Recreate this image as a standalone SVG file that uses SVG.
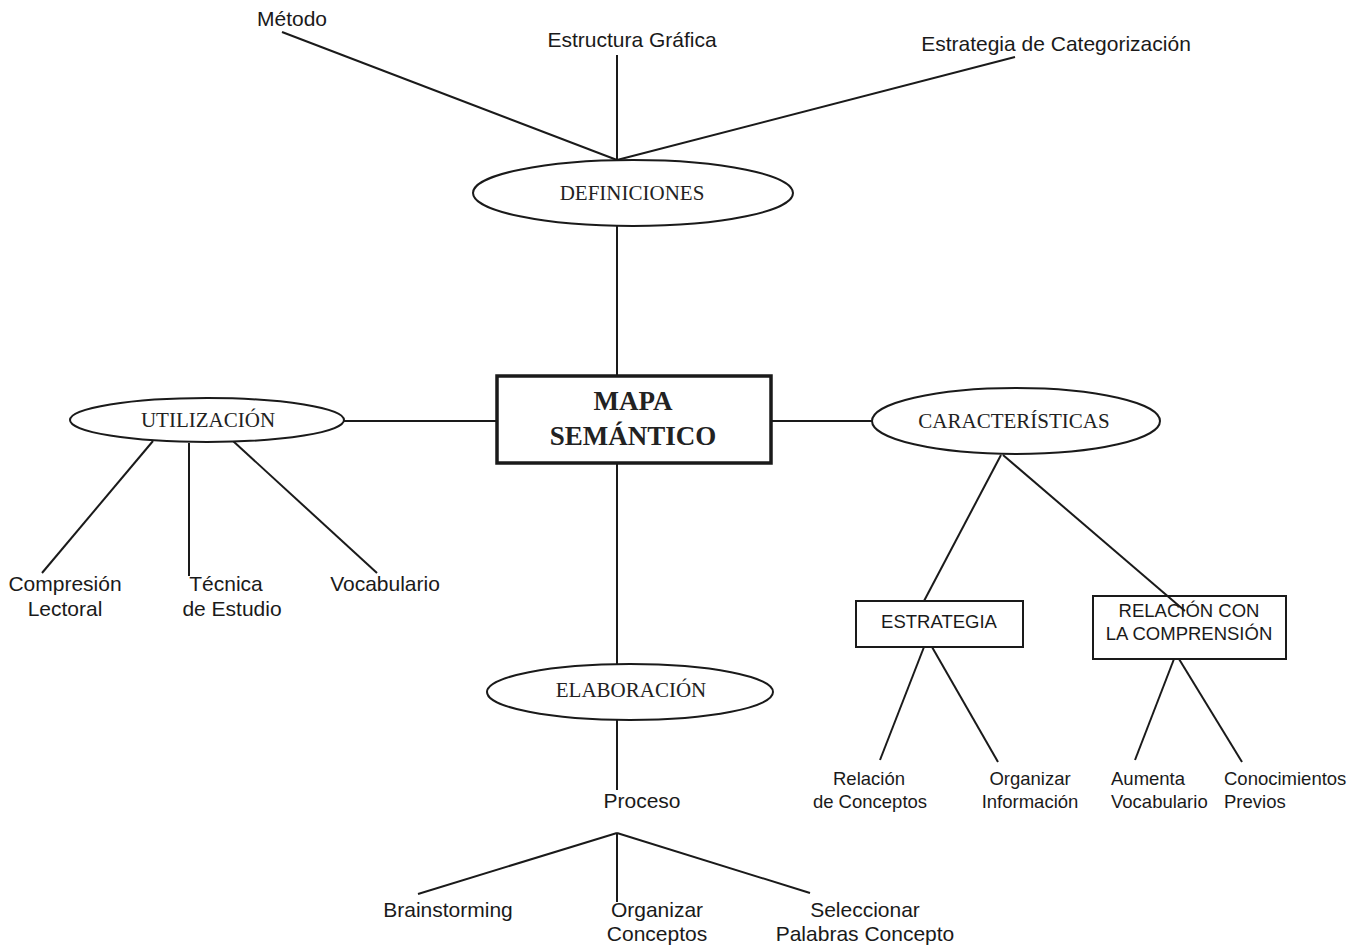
<svg xmlns="http://www.w3.org/2000/svg" width="1362" height="947" viewBox="0 0 1362 947">
<style>
.ln{stroke:#1a1a1a;stroke-width:2;fill:none}
.sh{fill:#fff;stroke:#1a1a1a;stroke-width:2}
.ser{font-family:"Liberation Serif","Times New Roman",serif;fill:#222;text-anchor:middle;font-size:21px}
.san{font-family:"Liberation Sans",Arial,sans-serif;fill:#1a1a1a;text-anchor:middle;font-size:21px}
.sm{font-size:18.5px}
.l{text-anchor:start}
</style>
<rect width="1362" height="947" fill="#fff"/>
<g id="connectors">
<line class="ln" x1="282" y1="32" x2="617" y2="160"/>
<line class="ln" x1="617" y1="55" x2="617" y2="160"/>
<line class="ln" x1="617" y1="160" x2="1015" y2="57"/>
<line class="ln" x1="617" y1="226" x2="617" y2="376"/>
<line class="ln" x1="617" y1="462" x2="617" y2="665"/>
<line class="ln" x1="343" y1="421" x2="496" y2="421"/>
<line class="ln" x1="772" y1="421" x2="873" y2="421"/>
<line class="ln" x1="153" y1="441" x2="42" y2="573"/>
<line class="ln" x1="189" y1="443" x2="189" y2="576"/>
<line class="ln" x1="233" y1="441" x2="377" y2="573"/>
<line class="ln" x1="1001" y1="455" x2="924" y2="601"/>
<line class="ln" x1="1003" y1="455" x2="1185" y2="611"/>
<line class="ln" x1="924" y1="647" x2="880" y2="760"/>
<line class="ln" x1="932" y1="647" x2="998" y2="762"/>
<line class="ln" x1="1174" y1="659" x2="1135" y2="760"/>
<line class="ln" x1="1179" y1="659" x2="1242" y2="762"/>
<line class="ln" x1="617" y1="720" x2="617" y2="790"/>
<line class="ln" x1="617" y1="833" x2="418" y2="894"/>
<line class="ln" x1="617" y1="833" x2="617" y2="902"/>
<line class="ln" x1="617" y1="833" x2="810" y2="893"/>
</g>
<g id="metodo"><text class="san" x="292" y="26">Método</text></g>
<g id="estructura"><text class="san" x="632" y="47">Estructura Gráfica</text></g>
<g id="categorizacion"><text class="san" x="1056" y="51">Estrategia de Categorización</text></g>
<g id="definiciones"><ellipse class="sh" cx="633" cy="193" rx="160" ry="33"/><text class="ser" x="632" y="200">DEFINICIONES</text></g>
<g id="mapa"><rect x="497" y="376" width="274" height="87" fill="#fff" stroke="#1a1a1a" stroke-width="3.5"/><text class="ser" x="633" y="410" font-weight="bold" style="font-size:27px">MAPA</text><text class="ser" x="633" y="445" font-weight="bold" style="font-size:27px">SEMÁNTICO</text></g>
<g id="utilizacion"><ellipse class="sh" cx="207" cy="420" rx="137" ry="22"/><text class="ser" x="208" y="427">UTILIZACIÓN</text></g>
<g id="compresion"><text class="san" x="65" y="591">Compresión</text><text class="san" x="65" y="616">Lectoral</text></g>
<g id="tecnica"><text class="san" x="226" y="591">Técnica</text><text class="san" x="232" y="616">de Estudio</text></g>
<g id="vocabulario"><text class="san" x="385" y="591">Vocabulario</text></g>
<g id="caracteristicas"><ellipse class="sh" cx="1016" cy="421" rx="144" ry="33"/><text class="ser" x="1014" y="428">CARACTERÍSTICAS</text></g>
<g id="estrategia"><rect class="sh" x="856" y="601" width="167" height="46"/><text class="san sm" x="939" y="628">ESTRATEGIA</text></g>
<g id="relacion"><rect class="sh" x="1093" y="596" width="193" height="63" fill-opacity="0"/><text class="san sm" x="1189" y="617">RELACIÓN CON</text><text class="san sm" x="1189" y="640">LA COMPRENSIÓN</text></g>
<g id="relconceptos"><text class="san sm" x="869" y="785">Relación</text><text class="san sm" x="870" y="808">de Conceptos</text></g>
<g id="orginfo"><text class="san sm" x="1030" y="785">Organizar</text><text class="san sm" x="1030" y="808">Información</text></g>
<g id="aumenta"><text class="san sm l" x="1111" y="785">Aumenta</text><text class="san sm l" x="1111" y="808">Vocabulario</text></g>
<g id="conocimientos"><text class="san sm l" x="1224" y="785">Conocimientos</text><text class="san sm l" x="1224" y="808">Previos</text></g>
<g id="elaboracion"><ellipse class="sh" cx="630" cy="692" rx="143" ry="28"/><text class="ser" x="631" y="697">ELABORACIÓN</text></g>
<g id="proceso"><text class="san" x="642" y="808">Proceso</text></g>
<g id="brainstorming"><text class="san" x="448" y="917">Brainstorming</text></g>
<g id="orgconceptos"><text class="san" x="657" y="917">Organizar</text><text class="san" x="657" y="941">Conceptos</text></g>
<g id="seleccionar"><text class="san" x="865" y="917">Seleccionar</text><text class="san" x="865" y="941">Palabras Concepto</text></g>
</svg>
